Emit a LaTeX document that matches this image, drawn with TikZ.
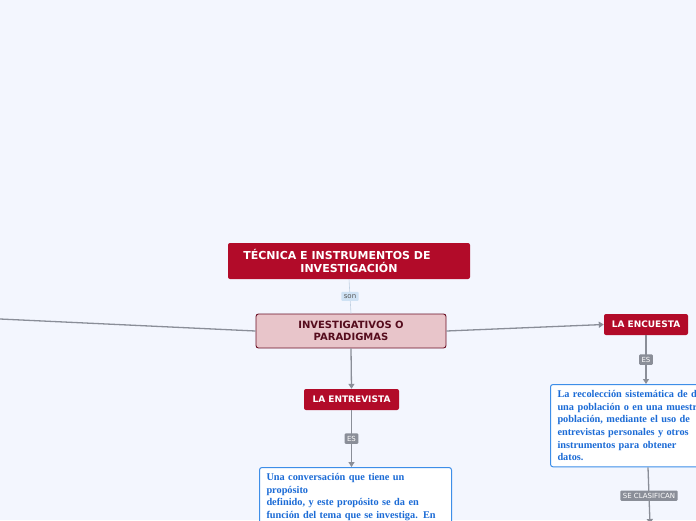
\documentclass[tikz,border=0pt]{standalone}
\usepackage{fontspec}
\setmainfont{Liberation Serif}
\setsansfont{DejaVu Sans}
\usetikzlibrary{arrows.meta}

\definecolor{fondo}{HTML}{F3F6FE}
\definecolor{rojo}{HTML}{B20B29}
\definecolor{rosa}{HTML}{E8C5CA}
\definecolor{vino}{HTML}{6A0F24}
\definecolor{azul}{HTML}{3D8EE8}
\definecolor{azultexto}{HTML}{1B6BD6}
\definecolor{celeste}{HTML}{CFE2F4}
\definecolor{gris}{HTML}{8A8E98}

\tikzset{
  rojobox/.style={fill=rojo, rounded corners=2pt, text=white, align=center,
    font=\sffamily\bfseries\fontsize{9}{11}\selectfont, inner sep=0pt},
  rosabox/.style={fill=rosa, draw=vino, line width=0.9pt, rounded corners=2.5pt,
    text=vino!80!black, align=center, font=\sffamily\bfseries\fontsize{10}{12}\selectfont, inner sep=0pt},
  azulbox/.style={fill=white, draw=azul, line width=1pt, rounded corners=2.5pt,
    text=azultexto, align=left, font=\bfseries\fontsize{10.3}{12.6}\selectfont,
    anchor=north west, inner xsep=7pt, inner ysep=6pt},
  conector/.style={draw=gris, line width=1.3pt},
  flecha/.style={conector, -{Triangle[length=5pt,width=6pt]}},
  etiqueta/.style={fill=gris, text=white, rounded corners=1pt, inner xsep=2.5pt, inner ysep=2.5pt,
    font=\sffamily\fontsize{7}{8}\selectfont},
  sonlabel/.style={fill=celeste, text=black!65, rounded corners=1pt, inner xsep=2.5pt, inner ysep=2.5pt,
    font=\sffamily\fontsize{7}{8}\selectfont}
}

\begin{document}
\begin{tikzpicture}[x=1pt,y=-1pt]
\useasboundingbox (0,0) rectangle (696,520);
\clip (0,0) rectangle (696,520);
\fill[fondo] (0,0) rectangle (696,520);

% nodos
\node[rojobox, minimum width=242pt, minimum height=36pt, font=\sffamily\bfseries\fontsize{11}{12.5}\selectfont]
  (titulo) at (349,261) {TÉCNICA E INSTRUMENTOS DE\hspace*{24pt}\\INVESTIGACIÓN};
\node[rosabox, minimum width=190pt, minimum height=34pt] (paradigmas) at (351,331) {INVESTIGATIVOS O\\PARADIGMAS};
\node[rojobox, minimum width=84pt, minimum height=21pt] (encuesta) at (646,324.5) {LA ENCUESTA};
\node[rojobox, minimum width=95pt, minimum height=21pt] (entrevista) at (351.5,399.5) {LA ENTREVISTA};

\node[azulbox, text width=165pt] (defencuesta) at (550,384)
  {La recolección sistemática de datos\\una población o en una muestra\\población, mediante el uso de\\entrevistas personales y otros\\instrumentos para obtener\\datos.};
\node[azulbox, text width=178pt] (defentrevista) at (259,467)
  {Una conversación que tiene un\\propósito\\definido, y este propósito se da en\\función del tema que se investiga. En};

\coordinate (izq) at (0,319);
\coordinate (abajo) at (650,524);

% conectores
\draw[draw=celeste!80!gris, line width=0.6pt] (titulo.south) -- node[sonlabel] {son} (paradigmas.north);
\draw[conector] (paradigmas.west) -- (izq);
\draw[flecha] (paradigmas.east) -- (encuesta.west);
\draw[flecha] (paradigmas.south) -- (entrevista.north);
\draw[flecha] (encuesta.south) -- node[etiqueta] {ES} (encuesta.south |- defencuesta.north);
\draw[flecha] (entrevista.south) -- node[etiqueta] {ES} (entrevista.south |- defentrevista.north);
\draw[flecha] (defencuesta.south -| 648,0) -- node[etiqueta] {SE CLASIFICAN} (abajo);
\end{tikzpicture}
\end{document}
